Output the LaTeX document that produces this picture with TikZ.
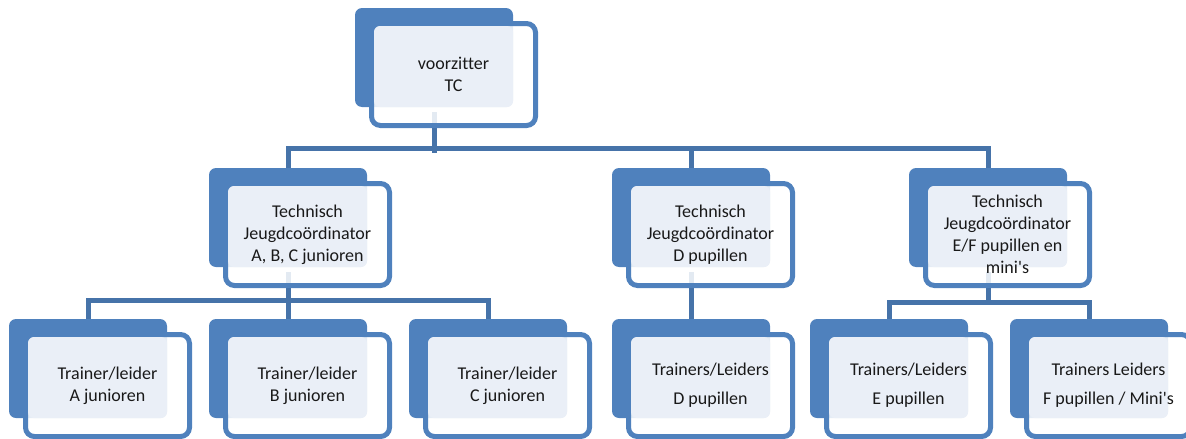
\documentclass[tikz,border=0pt]{standalone}
\usepackage{fontspec}
\setmainfont{Carlito}[Ligatures={NoCommon}]
\usetikzlibrary{backgrounds}

\definecolor{boxblue}{HTML}{4F81BD}
\definecolor{lightblue}{HTML}{EAEFF7}
\definecolor{lineblue}{HTML}{4673A9}

\tikzset{
  backbox/.style={fill=boxblue, rounded corners=7pt, minimum width=158pt, minimum height=99pt, inner sep=0pt, outer sep=0pt},
  frontbox/.style={draw=boxblue, line width=5pt, fill=white, fill opacity=0.85, rounded corners=9pt, minimum width=164pt, minimum height=102pt, inner sep=0pt},
  lightbox/.style={fill=lightblue, rounded corners=6pt},
  unittext/.style={align=center, font=\fontsize{18}{22}\selectfont, text=black!90, inner sep=0pt},
  conn/.style={draw=lineblue, line width=5pt},
}

% #1 name, #2 #3 top left corner of the dark box, #4 text
\newcommand{\orgunit}[4]{%
  \node[backbox] (#1b) at (#2+79,#3+49.5) {};
  \node[frontbox] (#1f) at (#2+98.5,#3+66.5) {};
  \fill[lightbox] (#2+19,#3+18) rectangle (#2+158,#3+99);
  \node[unittext] (#1) at (#1f.center) {#4};
}

\begin{document}
\begin{tikzpicture}[x=1pt,y=-1pt]
\useasboundingbox (0,0) rectangle (1186,439);

\orgunit{voorz}{355}{8}{voorzitter\\TC}

\orgunit{jcabc}{209}{168}{Technisch\\Jeugdcoördinator\\A, B, C junioren}
\orgunit{jcd}{612}{168}{Technisch\\Jeugdcoördinator\\D pupillen}
\orgunit{jcef}{909}{168}{Technisch\\Jeugdcoördinator\\E/F pupillen en\\mini\textquotesingle s}

\orgunit{tra}{9}{319}{Trainer/leider\\A junioren}
\orgunit{trb}{209}{319}{Trainer/leider\\B junioren}
\orgunit{trc}{409}{319}{Trainer/leider\\C junioren}
\orgunit{trd}{612}{319}{Trainers/Leiders\\[7pt]D pupillen}
\orgunit{tre}{810}{319}{Trainers/Leiders\\[7pt]E pupillen}
\orgunit{trf}{1010}{319}{Trainers Leiders\\[7pt]F pupillen / Mini\textquotesingle s}

\begin{pgfonlayer}{background}
% top level
\draw[conn] ([yshift=-5pt]voorzb.south) -- ++(0,41);
\draw[conn] (jcabcb.north) -- ++(0,-20) -| (jcefb.north);
\draw[conn] (jcdb.north) -- ++(0,-20);
% A, B, C junioren
\draw[conn] ([yshift=-5pt]jcabcb.south) -- ++(0,28);
\draw[conn] (trab.north) -- ++(0,-19) -| (trcb.north);
\draw[conn] (trbb.north) -- ++(0,-19);
% D pupillen
\draw[conn] ([yshift=-5pt]jcdb.south) -- (trdb.north);
% E/F pupillen
\draw[conn] ([yshift=-5pt]jcefb.south) -- ++(0,31);
\draw[conn] (treb.north) -- ++(0,-17) -| (trfb.north);
\end{pgfonlayer}
\end{tikzpicture}
\end{document}
